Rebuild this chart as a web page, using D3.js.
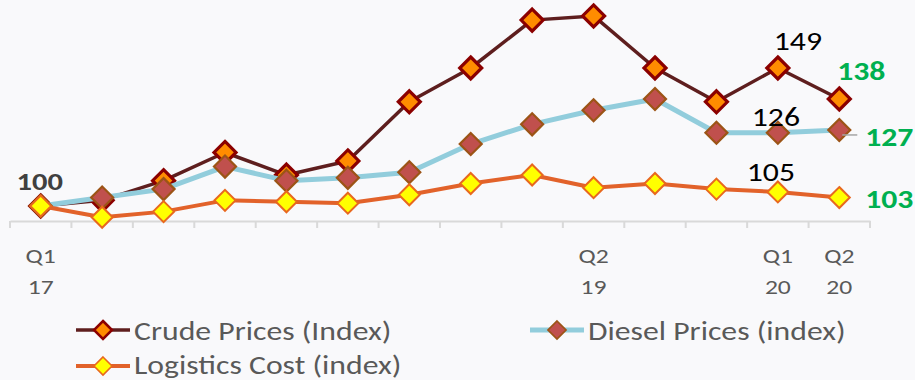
<!DOCTYPE html>
<html>
<head>
<meta charset="utf-8">
<script src="https://cdn.jsdelivr.net/npm/d3@7"></script>
<style>
  html, body { margin: 0; padding: 0; background: #f9f9fb; }
  svg { display: block; }
  text { font-family: Carlito, Lato, "Open Sans", sans-serif; }
</style>
</head>
<body>
<svg id="chart" width="915" height="380"></svg>
<script>
// Quarterly index values, Q1 2017 = 100
const quarters = ["Q1 17","Q2 17","Q3 17","Q4 17","Q1 18","Q2 18","Q3 18","Q4 18",
                  "Q1 19","Q2 19","Q3 19","Q4 19","Q1 20","Q2 20"];
const crude     = [100, 102, 109, 119, 111, 116, 137, 149, 166, 167.5, 149, 137, 149, 138];
const diesel    = [100, 103, 106, 114, 109, 110, 112, 122, 129, 134, 138, 126, 126, 127];
const logistics = [100, 96, 98, 102, 101.5, 101, 104, 108, 111, 106.5, 108, 106, 105, 103];
const shownTicks = ["Q1 17", "Q2 19", "Q1 20", "Q2 20"];
const seriesNames = ["Crude Prices (Index)", "Diesel Prices (index)", "Logistics Cost (index)"];

// text is drawn slightly widened
const SX = 1.22;

const svg = d3.select("#chart");

const x = d3.scaleBand().domain(quarters).range([10, 870]);
const y = d3.scaleLinear().domain([100, 149]).range([206, 68]);
const cx = q => x(q) + x.bandwidth() / 2;

// Category axis
const axisY = 221;
const xAxis = d3.axisBottom(x).tickSize(0).tickFormat("");
const gAxis = svg.append("g").attr("transform", `translate(0,${axisY})`).call(xAxis);
gAxis.select(".domain").attr("stroke", "#d9d9d9").attr("stroke-width", 2);
// boundary ticks between categories
const bounds = quarters.map(q => x(q)).concat([x.range()[1]]);
gAxis.selectAll("line.bound").data(bounds).join("line")
  .attr("class", "bound")
  .attr("x1", d => d).attr("x2", d => d)
  .attr("y1", 0).attr("y2", 7)
  .attr("stroke", "#d9d9d9").attr("stroke-width", 2);

// two-line category labels for selected quarters
const tl = svg.append("g").selectAll("g").data(shownTicks).join("g")
  .attr("transform", d => `translate(${cx(d)},0) scale(${SX},1)`);
tl.append("text").attr("y", 263).attr("text-anchor", "middle")
  .attr("fill", "#595959").attr("font-size", 21).text(d => d.split(" ")[0]);
tl.append("text").attr("y", 294).attr("text-anchor", "middle")
  .attr("fill", "#595959").attr("font-size", 21).text(d => d.split(" ")[1]);

const series = [
  { name: seriesNames[0], values: crude, line: "#5e1e1e", lw: 3.5, fill: "#ff8c00", stroke: "#8b0000", sw: 3.2, r: 11 },
  { name: seriesNames[1], values: diesel, line: "#92cddc", lw: 5, fill: "#c0504d", stroke: "#9c5416", sw: 2.2, r: 11 },
  { name: seriesNames[2], values: logistics, line: "#e2622a", lw: 4, fill: "#ffff00", stroke: "#e8681e", sw: 2, r: 10.5 }
];

const diamond = r => `M0,${-r}L${r},0L0,${r}L${-r},0Z`;
const line = d3.line().x((d, i) => cx(quarters[i])).y(d => y(d));

series.forEach(s => {
  const g = svg.append("g");
  g.append("path").datum(s.values)
    .attr("d", line)
    .attr("fill", "none")
    .attr("stroke", s.line)
    .attr("stroke-width", s.lw)
    .attr("stroke-linejoin", "round");
  g.selectAll("path.mk").data(s.values).join("path")
    .attr("class", "mk")
    .attr("transform", (d, i) => `translate(${cx(quarters[i])},${y(d)})`)
    .attr("d", diamond(s.r))
    .attr("fill", s.fill)
    .attr("stroke", s.stroke)
    .attr("stroke-width", s.sw);
});

// Value labels
const labels = [
  { v: crude[0], i: 0, dx: -1, dy: -16, color: "#404040", weight: "bold", size: 25 },
  { v: crude[12], i: 12, dx: 20, dy: -18, color: "#000", weight: "normal", size: 26 },
  { v: diesel[12], i: 12, dx: -2, dy: -7, color: "#000", weight: "normal", size: 26 },
  { v: logistics[12], i: 12, dx: -7, dy: -11, color: "#000", weight: "normal", size: 26 },
  { v: crude[13], i: 13, dx: 22, dy: -19, color: "#00b050", weight: "bold", size: 26 },
  { v: diesel[13], i: 13, dx: 50, dy: 16, color: "#00b050", weight: "bold", size: 26 },
  { v: logistics[13], i: 13, dx: 50, dy: 10, color: "#00b050", weight: "bold", size: 26 }
];
svg.append("g").selectAll("text").data(labels).join("text")
  .attr("transform", d => `translate(${cx(quarters[d.i]) + d.dx},${y(d.v) + d.dy}) scale(${SX},1)`)
  .attr("text-anchor", "middle")
  .attr("fill", d => d.color)
  .attr("font-weight", d => d.weight)
  .attr("font-size", d => d.size)
  .text(d => Math.round(d.v));

// leader line for the diesel end label
svg.append("line")
  .attr("x1", cx(quarters[13]) + 3).attr("x2", cx(quarters[13]) + 18)
  .attr("y1", y(diesel[13]) + 5).attr("y2", y(diesel[13]) + 5)
  .attr("stroke", "#a6a6a6").attr("stroke-width", 1.5);

// Legend
const legendPos = [[76, 330], [530, 330], [76, 366]];
series.forEach((s, k) => {
  const [lx, ly] = legendPos[k];
  const g = svg.append("g").attr("transform", `translate(${lx},${ly})`);
  g.append("line").attr("x1", 0).attr("x2", 54).attr("y1", 0).attr("y2", 0)
    .attr("stroke", s.line).attr("stroke-width", s.lw);
  g.append("path").attr("transform", "translate(27,0)").attr("d", diamond(9))
    .attr("fill", s.fill).attr("stroke", s.stroke).attr("stroke-width", s.sw * 0.8);
  g.append("text").attr("transform", `translate(58,${k === 2 ? 8 : 10}) scale(${SX},1)`)
    .attr("fill", "#595959").attr("font-size", 26).text(s.name);
});
</script>
</body>
</html>
